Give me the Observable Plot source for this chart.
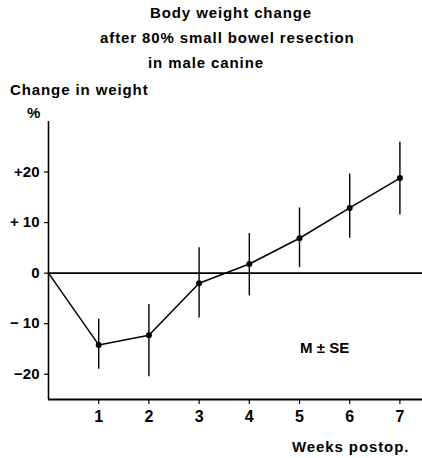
<!DOCTYPE html>
<html><head><meta charset="utf-8">
<script src="https://cdn.jsdelivr.net/npm/d3@7"></script>
<script src="https://cdn.jsdelivr.net/npm/@observablehq/plot@0.6"></script>
<style>body{margin:0;background:#fff} svg{display:block}</style>
</head><body><div id="chart"></div>
<script>
const weeks = [0,1,2,3,4,5,6,7];
const meanChange = [0,-14.2,-12.3,-2.0,1.8,6.9,12.9,18.8];
const seTop = [null,-9.1,-6.2,5.0,7.8,12.9,19.6,25.9];
const seBottom = [null,-19.0,-20.5,-8.9,-4.5,1.1,6.9,11.5];
const yTicks = [-20,-10,0,10,20];
const yTickLabels = ["\u221220","\u2212 10","0","+ 10","+20"];
const xTicks = [1,2,3,4,5,6,7];
const titleLines = ["Body weight change","after 80% small bowel resection","in male canine"];
const yLabel = "Change in weight";
const yUnit = "%";
const xLabel = "Weeks postop.";
const noteText = "M \u00b1 SE";

const data = weeks.map((w,i)=>({week:w, mean:meanChange[i], hi:seTop[i], lo:seBottom[i]}));
const bars = data.filter(d=>d.hi!=null);

const plot = Plot.plot({
  width: 422, height: 458,
  marginLeft: 48, marginRight: 0, marginTop: 121, marginBottom: 59,
  style: {fontFamily: "'Liberation Sans', Arial, sans-serif", fontWeight: "bold", color: "#000", background: "#fff"},
  x: {domain: [0, 7.45], axis: null},
  y: {domain: [-25, 30], axis: null},
  marks: [
    Plot.ruleX([0], {y1: -25, y2: 30, stroke: "#000", strokeWidth: 1.6}),
    Plot.ruleY([-25], {x1: 0, x2: 7.45, stroke: "#000", strokeWidth: 2}),
    Plot.ruleY([0], {x1: 0, x2: 7.45, stroke: "#000", strokeWidth: 1.6}),
    Plot.axisY(yTicks, {tickSize: 4, tickPadding: 5, fontSize: 15, stroke: "#000", strokeWidth: 1.2, tickFormat: d => yTickLabels[yTicks.indexOf(d)], label: null}),
    Plot.axisX(xTicks, {anchor: "bottom", tickSize: 5, tickPadding: 6, fontSize: 16, stroke: "#000", strokeWidth: 1.2, label: null}),
    Plot.ruleX(bars, {x: "week", y1: "lo", y2: "hi", stroke: "#000", strokeWidth: 1.4}),
    Plot.line(data, {x: "week", y: "mean", stroke: "#000", strokeWidth: 1.5}),
    Plot.dot(bars, {x: "week", y: "mean", r: 3, fill: "#000", stroke: "none"}),
    Plot.text([noteText], {x: 5.5, y: -14.9, text: d => d, fontSize: 15, fill: "#000", textAnchor: "middle"})
  ]
});
document.getElementById("chart").appendChild(plot);

const svg = d3.select(plot);
const extra = [
  {t: titleLines[0], x: 150, y: 18},
  {t: titleLines[1], x: 100, y: 43},
  {t: titleLines[2], x: 148, y: 68},
  {t: yLabel, x: 10, y: 95},
  {t: yUnit, x: 27, y: 118},
  {t: xLabel, x: 292, y: 452}
];
svg.append("g").attr("text-anchor", "start").selectAll("text").data(extra).join("text")
  .attr("x", d => d.x).attr("y", d => d.y)
  .attr("text-anchor", "start")
  .attr("font-size", 15).attr("font-weight", "bold").attr("fill", "#000")
  .attr("letter-spacing", 0.9)
  .text(d => d.t);
</script></body></html>
